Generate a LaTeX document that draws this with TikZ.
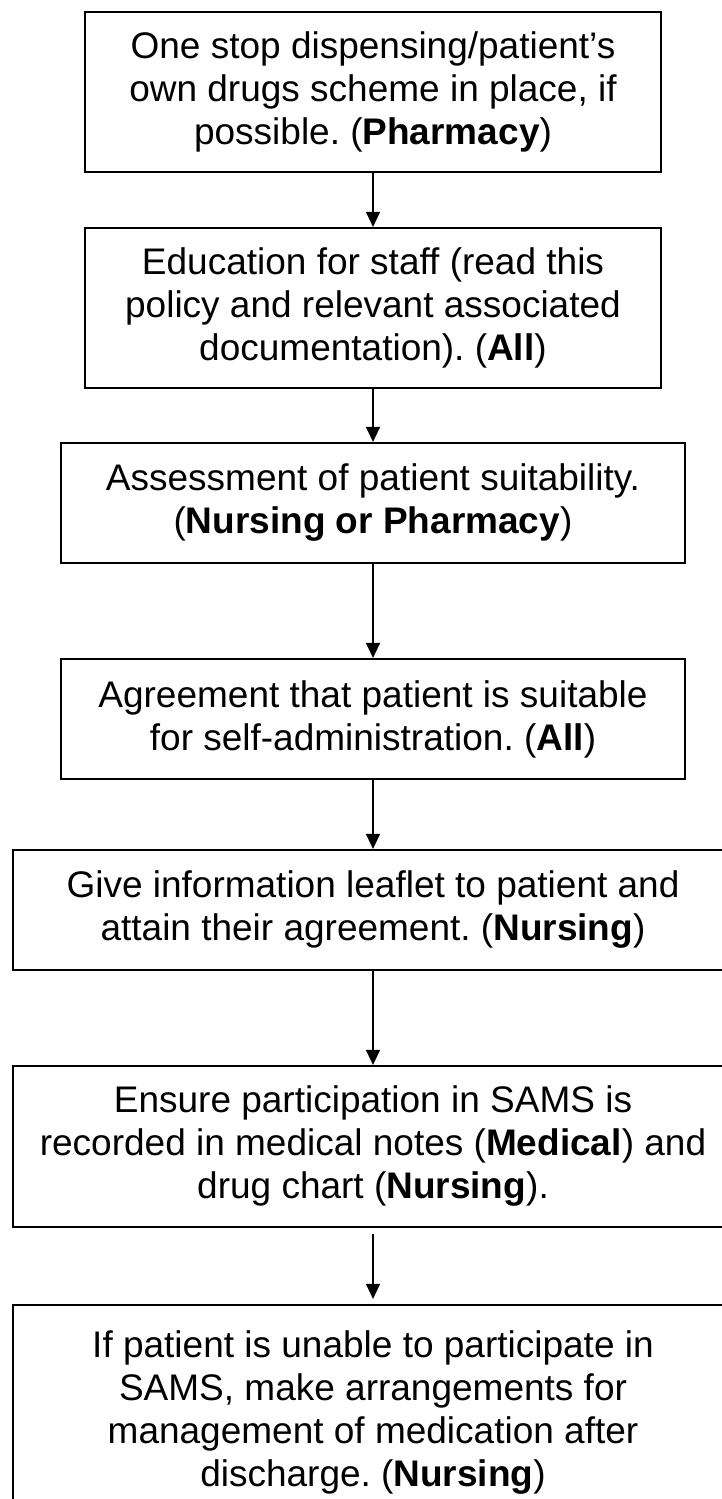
\documentclass[tikz,border=0pt]{standalone}
\usepackage{fontspec}
\setmainfont{Liberation Sans}
\usetikzlibrary{arrows.meta}
\frenchspacing

\tikzset{
  stage/.style={draw, line width=1.1pt, align=center, inner sep=0pt,
    font=\fontsize{18.5}{21.5}\selectfont},
  flow/.style={line width=0.7pt, -{Triangle[length=7.5pt, width=7pt]}}
}

\begin{document}
\begin{tikzpicture}[x=0.5pt, y=-0.5pt]
  \useasboundingbox (0,0) rectangle (722,1499);
  \clip (0,0) rectangle (722,1499);
  \fill[white] (0,0) rectangle (722,1499);

  \node[stage, minimum width=288pt, minimum height=80pt] (dispense) at (373, 92)
    {One stop dispensing/patient’s\\own drugs scheme in place, if\\possible. (\textbf{Pharmacy})};
  \node[stage, minimum width=288pt, minimum height=80pt] (educate) at (373, 308)
    {Education for staff (read this\\policy and relevant associated\\documentation). (\textbf{All})};
  \node[stage, minimum width=312pt, minimum height=60pt] (assess) at (373, 503)
    {Assessment of patient suitability.\\(\textbf{Nursing or Pharmacy})};
  \node[stage, minimum width=312pt, minimum height=60pt] (agree) at (373, 719)
    {Agreement that patient is suitable\\for self-administration. (\textbf{All})};
  \node[stage, minimum width=360pt, minimum height=60pt] (leaflet) at (373, 910)
    {Give information leaflet to patient and\\attain their agreement. (\textbf{Nursing})};
  \node[stage, minimum width=360pt, minimum height=80.5pt] (record) at (373, 1146.5)
    {Ensure participation in SAMS is\\recorded in medical notes (\textbf{Medical}) and\\drug chart (\textbf{Nursing}).};
  \node[stage, minimum width=360pt, minimum height=107pt] (discharge) at (373, 1412)
    {If patient is unable to participate in\\SAMS, make arrangements for\\management of medication after\\discharge. (\textbf{Nursing})};

  \draw[flow] (dispense) -- (educate);
  \draw[flow] (educate) -- (assess);
  \draw[flow] (assess) -- (agree);
  \draw[flow] (agree) -- (leaflet);
  \draw[flow] (leaflet) -- (record);
  \draw[flow, shorten <=3pt, shorten >=2.5pt] (record) -- (discharge);
\end{tikzpicture}
\end{document}
